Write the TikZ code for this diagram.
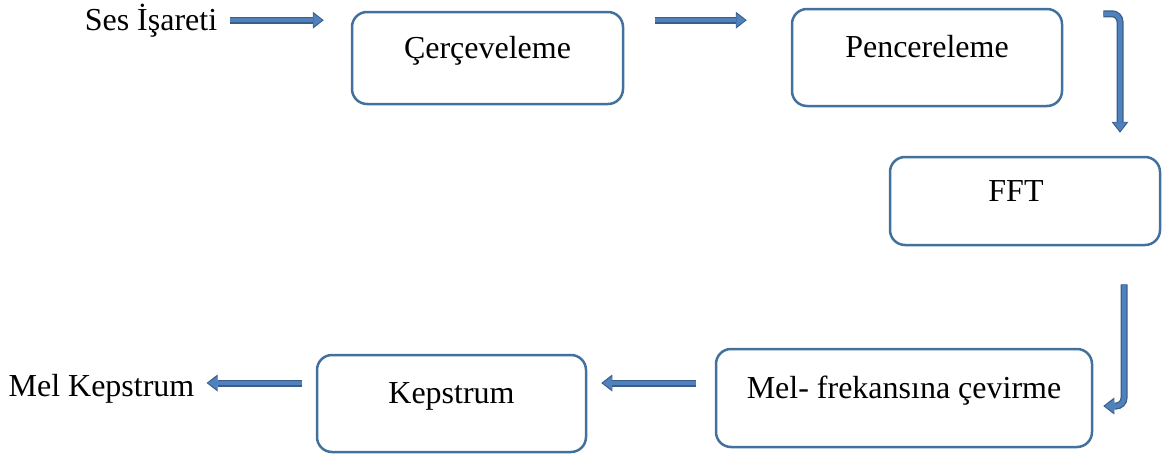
\documentclass[tikz,border=0pt]{standalone}
\usepackage{fontspec}
\setmainfont{Liberation Serif}
\usetikzlibrary{arrows.meta}
\definecolor{boxline}{RGB}{65,113,156}
\definecolor{arrowfill}{RGB}{79,129,189}
\definecolor{arrowedge}{RGB}{56,93,138}
\tikzset{
  stage/.style={
    draw=boxline,
    line width=2.5pt,
    rounded corners=15pt,
    fill=white,
    align=center,
    text height=12pt,
    text depth=12pt,
    font=\fontsize{32pt}{38pt}\selectfont
  },
  plain/.style={font=\fontsize{32pt}{38pt}\selectfont, inner sep=0pt},
  blockarrow/.style={
    line width=7pt, draw=arrowedge, rounded corners=8pt,
    -{Triangle[length=11pt,width=17pt,line width=0pt]},
    postaction={draw=arrowfill, line width=4.5pt,
      -{Triangle[length=9pt,width=13pt,line width=0pt]}, shorten >=1.5pt}
  }
}
\begin{document}
\begin{tikzpicture}[x=1pt,y=-1pt]
  \useasboundingbox (0,0) rectangle (1162,455);
  \node[plain, anchor=base] (ses) at (151,30) {Ses İşareti};
  \node[stage, minimum width=271pt, minimum height=92pt] (cerc) at (487.5,58) {Çerçeveleme};
  \node[stage, minimum width=270pt, minimum height=97pt] (penc) at (927,57.5) {Pencereleme};
  \node[stage, minimum width=270pt, minimum height=88pt] (fft) at (1025,201) {FFT\hspace*{18pt}};
  \node[stage, minimum width=376pt, minimum height=98pt] (mel) at (904,398) {Mel- frekansına çevirme};
  \node[stage, minimum width=269pt, minimum height=97pt] (kep) at (451.5,403.5) {Kepstrum};
  \node[plain, anchor=base] (melkep) at (101.5,396) {Mel Kepstrum};
  \draw[blockarrow] ([xshift=13pt]ses.east) -- ([xshift=-27pt]cerc.west |- ses.east);
  \draw[blockarrow] ([xshift=31pt]cerc.east |- ses.east) -- ([xshift=-44pt]penc.west |- ses.east);
  \draw[blockarrow] ([xshift=40pt,yshift=-6pt]penc.north east) -| ([xshift=95pt,yshift=23pt]fft.north);
  \draw[blockarrow] ([xshift=99pt,yshift=-38pt]fft.south) |- ([xshift=10pt,yshift=-8pt]mel.east);
  \draw[blockarrow] ([xshift=-19pt,yshift=15pt]mel.west) -- ([xshift=14pt,yshift=15pt]kep.east |- mel.west);
  \draw[blockarrow] ([xshift=-14pt,yshift=15pt]kep.west |- mel.west) -- ([xshift=12pt,yshift=15pt]melkep.east |- mel.west);
\end{tikzpicture}
\end{document}
